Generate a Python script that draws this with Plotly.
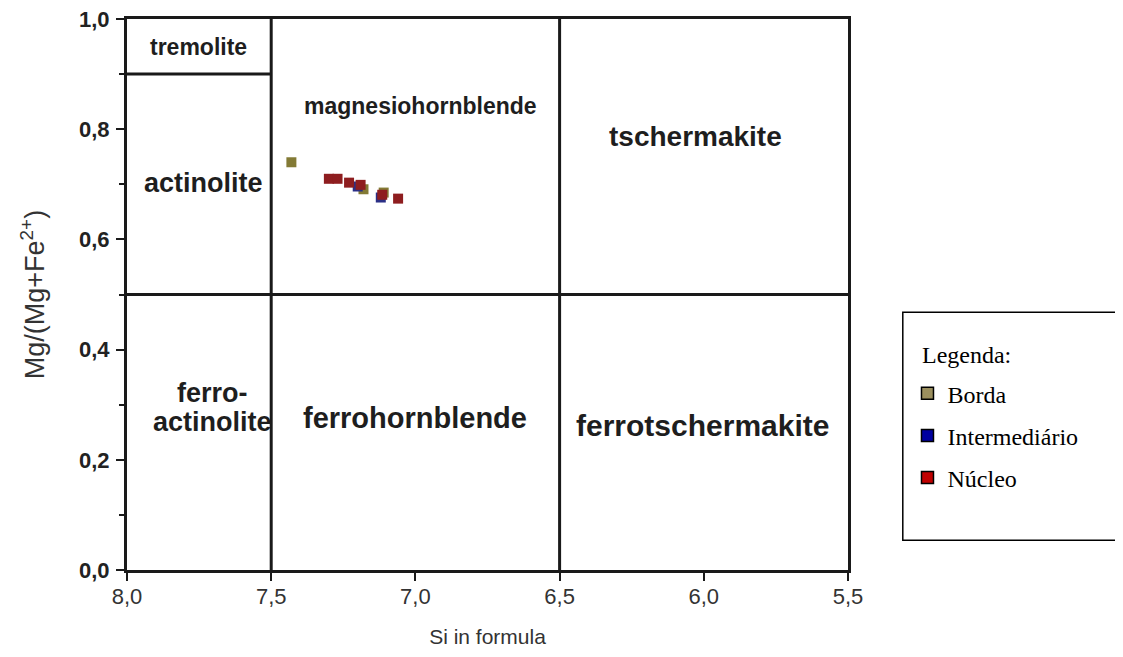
import plotly.graph_objects as go

# Data
borda_si = [7.43, 7.18, 7.11]
borda_mg = [0.740, 0.691, 0.685]
inter_si = [7.20, 7.12]
inter_mg = [0.696, 0.676]
nucleo_si = [7.30, 7.27, 7.23, 7.19, 7.115, 7.06]
nucleo_mg = [0.710, 0.710, 0.703, 0.699, 0.681, 0.674]

series_names = ["Borda", "Intermediário", "Núcleo"]
plot_colors = ["#837a35", "#2b2f86", "#8e1d1f"]
legend_colors = ["#9b8f5e", "#0000a0", "#c00000"]

x_ticks = [8.0, 7.5, 7.0, 6.5, 6.0, 5.5]
x_labels = ["8,0", "7,5", "7,0", "6,5", "6,0", "5,5"]
y_ticks = [0.0, 0.2, 0.4, 0.6, 0.8, 1.0]
y_labels = ["0,0", "0,2", "0,4", "0,6", "0,8", "1,0"]

# Field boundaries
v_lines = [7.5, 6.5]
h_line = 0.5
tremolite_y = 0.9

# Field labels: (text, x, y, size)
fields = [
    ("tremolite", 7.753, 0.949, 23),
    ("actinolite", 7.736, 0.702, 27),
    ("magnesiohornblende", 6.983, 0.842, 23),
    ("tschermakite", 6.028, 0.786, 28),
    ("ferro-", 7.705, 0.321, 27),
    ("actinolite", 7.705, 0.269, 27),
    ("ferrohornblende", 7.0, 0.276, 29),
    ("ferrotschermakite", 6.003, 0.263, 30),
]

fig = go.Figure()

all_x = [borda_si, inter_si, nucleo_si]
all_y = [borda_mg, inter_mg, nucleo_mg]
for name, xs, ys, c in zip(series_names, all_x, all_y, plot_colors):
    fig.add_trace(go.Scatter(
        x=xs, y=ys, mode="markers", name=name, showlegend=False,
        marker=dict(symbol="square", size=10, color=c, line=dict(width=0)),
    ))

for i, (name, c) in enumerate(zip(series_names, legend_colors)):
    fig.add_trace(go.Scatter(
        x=[None], y=[None], mode="markers", name=name, legendgroup=str(i),
        marker=dict(symbol="square", size=12, color=c, line=dict(width=1.5, color="black")),
    ))

line_style = dict(color="#1a1a1a", width=3)
for xv in v_lines:
    fig.add_shape(type="line", xref="x", yref="y", x0=xv, x1=xv, y0=0, y1=1, line=line_style)
fig.add_shape(type="line", xref="x", yref="y", x0=8.0, x1=5.5, y0=h_line, y1=h_line, line=line_style)
fig.add_shape(type="line", xref="x", yref="y", x0=8.0, x1=7.5, y0=tremolite_y, y1=tremolite_y, line=line_style)

# Legend box
fig.add_shape(type="rect", xref="paper", yref="paper", x0=1.076, x1=1.45, y0=0.054, y1=0.468,
              line=dict(color="black", width=1.5), fillcolor="rgba(0,0,0,0)")
fig.add_annotation(x=1.100, y=0.390, xref="paper", yref="paper", xanchor="left", yanchor="middle",
                   text="Legenda:", showarrow=False,
                   font=dict(family="Liberation Serif, Times New Roman", size=24, color="black"))

for text, xv, yv, sz in fields:
    fig.add_annotation(x=xv, y=yv, xref="x", yref="y", text=text, showarrow=False,
                       font=dict(family="Liberation Sans, Arial", size=sz, color="#1e1e1e", weight="bold"),
                       align="center")

fig.update_layout(
    width=1115, height=649,
    margin=dict(l=119, r=275, t=11, b=87),
    paper_bgcolor="white", plot_bgcolor="white",
    showlegend=True,
    legend=dict(
        x=1.0825, y=0.361, xanchor="left", yanchor="top",
        bgcolor="rgba(0,0,0,0)", borderwidth=0,
        font=dict(family="Liberation Serif, Times New Roman", size=24, color="black"),
        tracegroupgap=8,
    ),
    xaxis=dict(
        range=[8.0, 5.5], tickvals=x_ticks, ticktext=x_labels, automargin=False,
        ticklabeloverflow="allow", ticklabelstandoff=-3,
        showgrid=False, zeroline=False,
        showline=True, mirror=True, linecolor="#1a1a1a", linewidth=3,
        ticks="outside", ticklen=8, tickwidth=2, tickcolor="#1a1a1a",
        tickfont=dict(family="Liberation Sans, Arial", size=22, color="#333"),
        title=dict(text="Si in formula", font=dict(family="Liberation Sans, Arial", size=21, color="#333"), standoff=21),
    ),
    yaxis=dict(
        range=[0, 1.0], tickvals=y_ticks, ticktext=y_labels, automargin=False,
        ticklabeloverflow="allow",
        showgrid=False, zeroline=False,
        showline=True, mirror=True, linecolor="#1a1a1a", linewidth=3,
        ticks="outside", ticklen=8, tickwidth=2, tickcolor="#1a1a1a",
        ticklabelstandoff=2,
        minor=dict(dtick=0.1, ticks="outside", ticklen=5, tickwidth=2, tickcolor="#1a1a1a", showgrid=False),
        tickfont=dict(family="Liberation Sans, Arial", size=22, color="#222", weight="bold"),
        title=dict(text="Mg/(Mg+Fe<sup>2+</sup>)", font=dict(family="Liberation Sans, Arial", size=27, color="#333"), standoff=27),
    ),
)

fig.write_html("out.html")
